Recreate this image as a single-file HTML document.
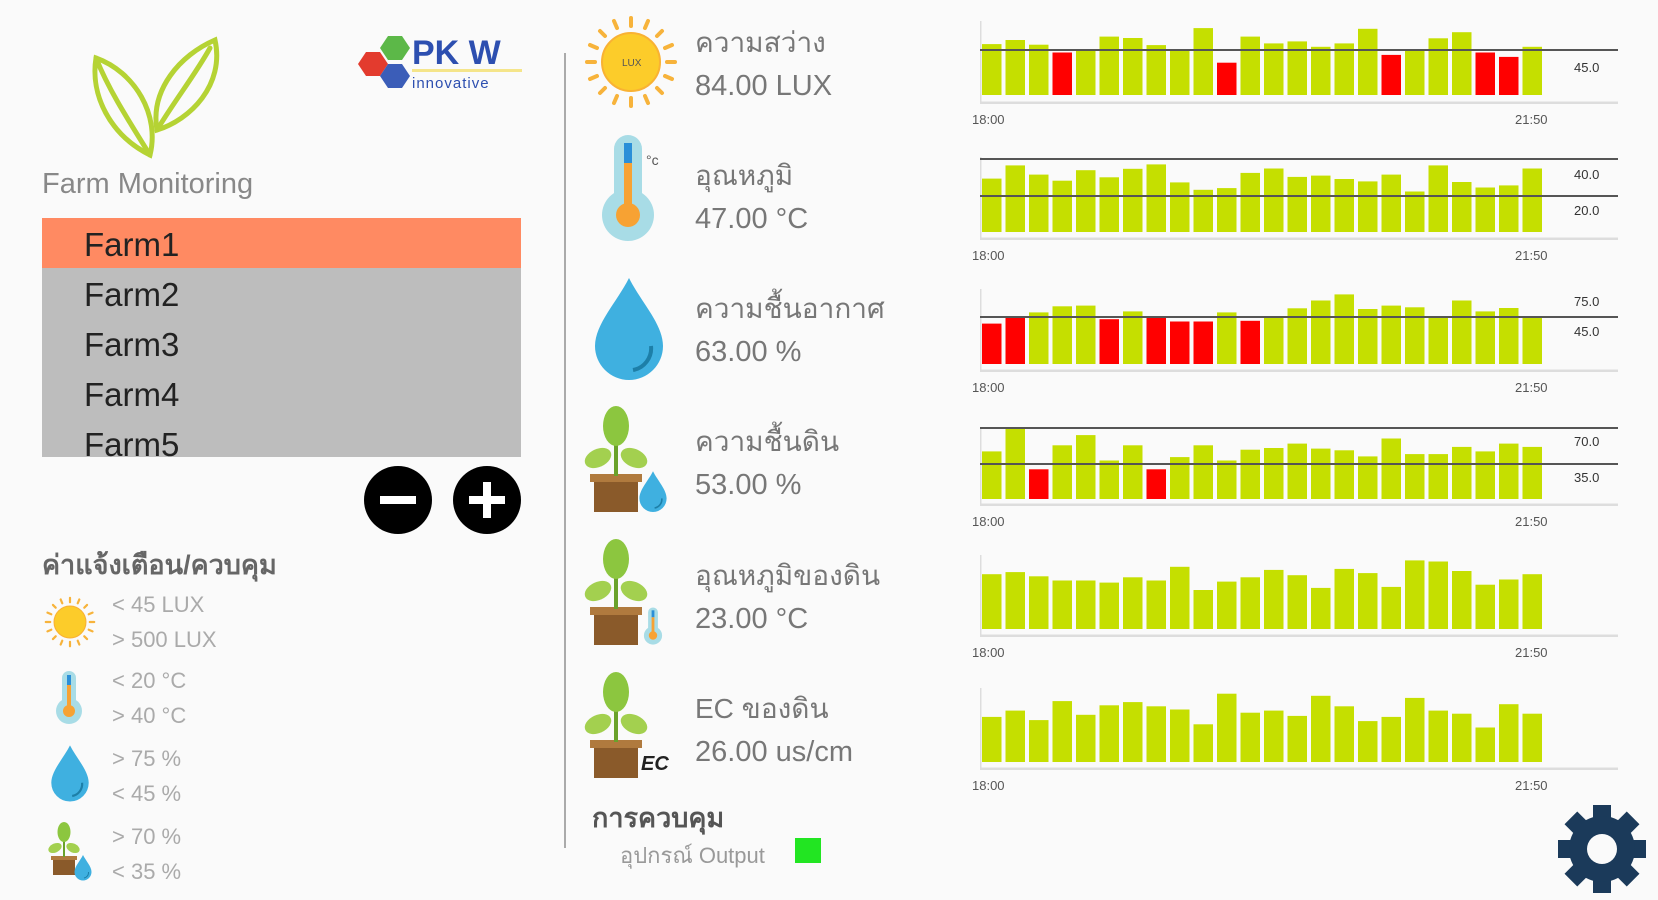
<!DOCTYPE html>
<html><head><meta charset="utf-8"><style>
html,body{margin:0;padding:0;background:#fafafa;width:1658px;height:900px;overflow:hidden}
svg{display:block}
text{font-family:"Liberation Sans","DejaVu Sans",sans-serif}
</style></head><body>
<svg id="s" width="1658" height="900" viewBox="0 0 1658 900" xmlns="http://www.w3.org/2000/svg">
<defs>
<g id="sun">
<g stroke="#f7b33b" stroke-width="4" stroke-linecap="round">
<line x1="0" y1="-44" x2="0" y2="-36"/><line x1="0" y1="44" x2="0" y2="36"/>
<line x1="-44" y1="0" x2="-36" y2="0"/><line x1="44" y1="0" x2="36" y2="0"/>
<line x1="-31" y1="-31" x2="-26" y2="-26"/><line x1="31" y1="31" x2="26" y2="26"/>
<line x1="-31" y1="31" x2="-26" y2="26"/><line x1="31" y1="-31" x2="26" y2="-26"/>
<line x1="-17" y1="-41" x2="-14" y2="-34"/><line x1="17" y1="41" x2="14" y2="34"/>
<line x1="41" y1="-17" x2="34" y2="-14"/><line x1="-41" y1="17" x2="-34" y2="14"/>
<line x1="17" y1="-41" x2="14" y2="-34"/><line x1="-17" y1="41" x2="-14" y2="34"/>
<line x1="41" y1="17" x2="34" y2="14"/><line x1="-41" y1="-17" x2="-34" y2="-14"/>
</g>
<circle r="29" fill="#fccc2a" stroke="#f9b233" stroke-width="2"/>
</g>
<g id="therm">
<rect x="-14" y="-50" width="28" height="80" rx="14" fill="#a8dce6"/>
<circle cx="0" cy="30" r="26" fill="#a8dce6"/>
<rect x="-4" y="-42" width="8" height="20" fill="#2a8fd8"/>
<rect x="-4" y="-22" width="8" height="46" fill="#f7a233"/>
<circle cx="0" cy="30" r="12" fill="#f7a233"/>
</g>
<g id="drop">
<path d="M0,-52 C12,-28 34,-6 34,16 A34,34 0 0 1 -34,16 C-34,-6 -12,-28 0,-52Z" fill="#3fb0e0"/>
<path d="M22,16 A22,22 0 0 1 4,40" stroke="#1d7fa8" stroke-width="4" fill="none"/>
</g>
<g id="plant">
<rect x="-24" y="16" width="44" height="34" fill="#8a5a2a"/>
<rect x="-28" y="12" width="52" height="8" fill="#b07a3e"/>
<line x1="-2" y1="14" x2="-2" y2="-30" stroke="#6aa22b" stroke-width="4"/>
<ellipse cx="-2" cy="-36" rx="13" ry="20" fill="#8cc63f"/>
<ellipse cx="-20" cy="-4" rx="14" ry="9" fill="#a3d04f" transform="rotate(-25 -20 -4)"/>
<ellipse cx="16" cy="-4" rx="14" ry="9" fill="#a3d04f" transform="rotate(25 16 -4)"/>
</g>
</defs>

<!-- leaf logo -->
<g fill="none" stroke="#b5d334" stroke-width="5" stroke-linecap="round">
<path d="M150,155 C110,135 90,95 96,58 C135,72 160,115 150,155 Z"/>
<path d="M150,155 C125,115 108,88 96,58"/>
<path d="M157,130 C150,90 180,55 215,40 C225,85 190,120 157,130Z"/>
<path d="M157,130 C175,100 195,75 210,48"/>
</g>
<text x="42" y="193" font-size="29" fill="#888">Farm Monitoring</text>
<!-- PKW logo -->
<polygon points="358,64 366,52 380,52 388,64 380,76 366,76" fill="#e33b2e"/>
<polygon points="380,48 388,36 402,36 410,48 402,60 388,60" fill="#5cb848"/>
<polygon points="380,76 388,64 402,64 410,76 402,88 388,88" fill="#3b5db8"/>
<text x="412" y="64" font-size="34" font-weight="bold" fill="#2d4fb0">PK W</text>
<rect x="412" y="69" width="110" height="3" fill="#f5e58a"/>
<text x="412" y="88" font-size="15" fill="#2d4fb0" letter-spacing="1">innovative</text>

<!-- farm list -->
<rect x="42" y="218" width="479" height="239" fill="#bdbdbd"/>
<rect x="42" y="218" width="479" height="50" fill="#ff8a62"/>
<g font-size="33" fill="#222">
<text x="84" y="256">Farm1</text><text x="84" y="306">Farm2</text>
<text x="84" y="356">Farm3</text><text x="84" y="406">Farm4</text>
</g>
<clipPath id="lc"><rect x="42" y="218" width="479" height="239"/></clipPath>
<text x="84" y="456" font-size="33" fill="#222" clip-path="url(#lc)">Farm5</text>
<!-- buttons -->
<circle cx="398" cy="500" r="34" fill="#000"/>
<rect x="380" y="496" width="36" height="8" fill="#fff"/>
<circle cx="487" cy="500" r="34" fill="#000"/>
<rect x="469" y="496" width="36" height="8" fill="#fff"/><rect x="483" y="482" width="8" height="36" fill="#fff"/>

<text x="42" y="574" font-size="27" font-weight="bold" fill="#666">ค่าแจ้งเตือน/ควบคุม</text>
<use href="#sun" transform="translate(70,622) scale(0.55)"/>
<use href="#therm" transform="translate(69,696) scale(0.5)"/>
<use href="#drop" transform="translate(70,774) scale(0.55)"/>
<use href="#plant" transform="translate(65,850) scale(0.5)"/>
<use href="#drop" transform="translate(83,868) scale(0.25)"/>
<g font-size="22" fill="#aaa">
<text x="112" y="612">&lt; 45 LUX</text><text x="112" y="647">&gt; 500 LUX</text>
<text x="112" y="688">&lt; 20 °C</text><text x="112" y="723">&gt; 40 °C</text>
<text x="112" y="766">&gt; 75 %</text><text x="112" y="801">&lt; 45 %</text>
<text x="112" y="844">&gt; 70 %</text><text x="112" y="879">&lt; 35 %</text>
</g>

<rect x="564" y="53" width="2" height="795" fill="#aaa"/>

<!-- middle icons -->
<use href="#sun" transform="translate(631,62)"/>
<text x="622" y="66" font-size="10" fill="#555">LUX</text>
<use href="#therm" transform="translate(628,185)"/>
<text x="646" y="165" font-size="14" fill="#555">°c</text>
<use href="#drop" transform="translate(629,330)"/>
<use href="#plant" transform="translate(618,462)"/>
<use href="#drop" transform="translate(653,492) scale(0.4)"/>
<use href="#plant" transform="translate(618,595)"/>
<use href="#therm" transform="translate(653,625) scale(0.35)"/>
<use href="#plant" transform="translate(618,728)"/>
<text x="641" y="770" font-size="20" font-weight="bold" font-style="italic" fill="#222">EC</text>

<g fill="#777">
<text x="695" y="52" font-size="28">ความสว่าง</text><text x="695" y="95" font-size="29">84.00 LUX</text>
<text x="695" y="185" font-size="28">อุณหภูมิ</text><text x="695" y="228" font-size="29">47.00 °C</text>
<text x="695" y="318" font-size="28">ความชื้นอากาศ</text><text x="695" y="361" font-size="29">63.00 %</text>
<text x="695" y="451" font-size="28">ความชื้นดิน</text><text x="695" y="494" font-size="29">53.00 %</text>
<text x="695" y="585" font-size="28">อุณหภูมิของดิน</text><text x="695" y="628" font-size="29">23.00 °C</text>
<text x="695" y="718" font-size="28">EC ของดิน</text><text x="695" y="761" font-size="29">26.00 us/cm</text>
</g>
<text x="592" y="827" font-size="27" font-weight="bold" fill="#555">การควบคุม</text>
<text x="620" y="863" font-size="22" fill="#999">อุปกรณ์ Output</text>
<rect x="795" y="838" width="26" height="25" fill="#22e522"/>

<!-- gear -->
<g transform="translate(1602,849)" fill="#1b3a5a">
<g id="teeth">
<rect x="-9" y="-44" width="18" height="14"/><rect x="-9" y="30" width="18" height="14"/>
<rect x="-44" y="-9" width="14" height="18"/><rect x="30" y="-9" width="14" height="18"/>
</g>
<use href="#teeth" transform="rotate(45)"/>
<circle r="33"/>
<circle r="15" fill="#fafafa"/>
</g>
<g id="charts"></g>
</svg>
<script>
var G="#c5df00",R="#ff0000";
function z(a,off){return a.map(function(v){return off+v/2.95});}
function sh(a){return a.map(function(v){return v*1.0574});}
var C=[
{t:z([130,118,132,155,150,108,112,133,150,83,185,108,128,122,138,128,85,162,146,113,95,155,168,138],0),red:[3,10,17,21,22],bb:95,bot:103,top:21,lines:[50],lab:[["45.0",67]]},
{t:z([527,488,515,533,502,523,498,485,538,560,555,510,497,522,518,528,535,515,565,488,537,553,547,497],0),red:[],bb:232,bot:239,top:157,lines:[159,196],lab:[["40.0",174],["20.0",210]]},
{t:z([158,140,125,107,105,145,122,138,152,152,125,150,138,113,90,72,115,105,110,138,90,122,112,138],270),red:[0,1,5,7,8,9,11],bb:364,bot:371,top:289,lines:[317],lab:[["75.0",301],["45.0",331]]},
{t:z([535,468,588,517,487,562,517,588,552,517,562,530,525,512,527,532,550,497,543,543,522,535,512,522],270),red:[2,7],bb:499,bot:505,top:428,lines:[428,464],lab:[["70.0",441],["35.0",477]]},
{t:sh([543,541,545,549,549,551,546,549,536,558,550,546,539,544,556,538,542,555,530,531,540,553,548,543]),red:[],bb:629,bot:636,top:555,lines:[],lab:[]},
{t:sh([678,672,681,663,676,667,664,668,671,685,656,674,672,677,658,668,682,678,660,672,675,688,666,675]),red:[],bb:762,bot:769,top:688,lines:[],lab:[]}
];
var h="";
C.forEach(function(c){
 h+='<rect x="980" y="'+c.top+'" width="1.5" height="'+(c.bot-c.top)+'" fill="#ddd"/>';
 c.t.forEach(function(y,i){var col=c.red.indexOf(i)>=0?R:G;
  h+='<rect x="'+(982+i*23.5).toFixed(1)+'" y="'+y.toFixed(1)+'" width="19.5" height="'+(c.bb-y).toFixed(1)+'" fill="'+col+'"/>';});
 h+='<rect x="980" y="'+(c.bot-1.5)+'" width="638" height="2.5" fill="#ddd"/>';
 c.lines.forEach(function(y){h+='<rect x="980" y="'+(y-1)+'" width="638" height="2" fill="#555"/>';});
 c.lab.forEach(function(l){h+='<text x="1574" y="'+(l[1]+5)+'" font-size="13" fill="#333">'+l[0]+'</text>';});
 h+='<text x="972" y="'+(c.bot+21)+'" font-size="13" fill="#555">18:00</text>';
 h+='<text x="1515" y="'+(c.bot+21)+'" font-size="13" fill="#555">21:50</text>';
});
document.getElementById("charts").innerHTML=h;
</script>
</body></html>
